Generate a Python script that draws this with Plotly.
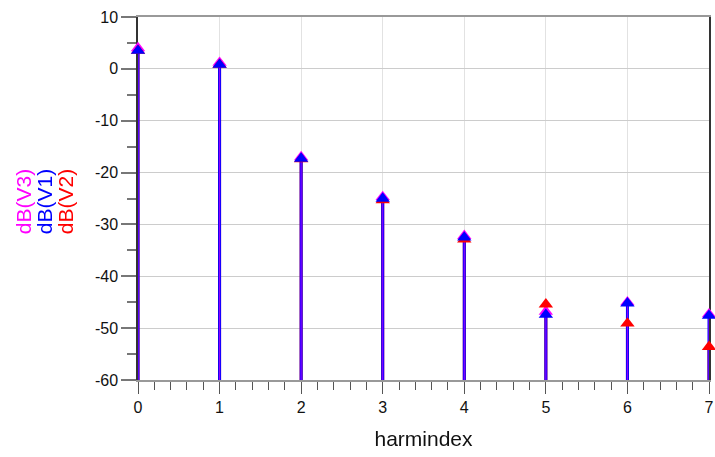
import plotly.graph_objects as go

# Harmonic spectrum (dB) of three node voltages
harmindex = [0, 1, 2, 3, 4, 5, 6, 7]
db_v1 = [3.5, 0.8, -17.3, -25.0, -32.5, -47.4, -45.2, -47.6]
db_v2 = [3.5, 0.8, -17.4, -25.3, -32.9, -45.4, -49.1, -53.6]
db_v3 = [4.0, 1.2, -17.0, -24.7, -32.2, -46.8, -45.0, -47.3]

y_ticks = [10, 0, -10, -20, -30, -40, -50, -60]
y_tick_labels = ["10", "0", "-10", "-20", "-30", "-40", "-50", "-60"]

names = ["dB(V3)", "dB(V1)", "dB(V2)"]
colors = {"dB(V1)": "#0000ff", "dB(V2)": "#ff0000", "dB(V3)": "#ff00ff"}
series = {"dB(V1)": db_v1, "dB(V2)": db_v2, "dB(V3)": db_v3}

Y_MIN, Y_MAX = -60, 10
FONT = "Liberation Sans, Arial, sans-serif"


def stem_xy(xs, ys):
    sx, sy = [], []
    for x, y in zip(xs, ys):
        sx += [x, x, None]
        sy += [Y_MIN, y, None]
    return sx, sy


fig = go.Figure()

# stems: red underneath, blue, thin magenta on top
for name, width, opac in [("dB(V2)", 3, 1.0), ("dB(V1)", 3, 1.0), ("dB(V3)", 1.2, 0.55)]:
    sx, sy = stem_xy(harmindex, series[name])
    fig.add_trace(go.Scatter(x=sx, y=sy, mode="lines", showlegend=False,
                             line=dict(color=colors[name], width=width),
                             opacity=opac, hoverinfo="skip"))

# arrow heads
for name in ["dB(V3)", "dB(V2)", "dB(V1)"]:
    fig.add_trace(go.Scatter(x=harmindex, y=series[name], mode="markers", name=name,
                             showlegend=False, cliponaxis=False,
                             marker=dict(symbol="triangle-up", size=12.5,
                                         color=colors[name], line=dict(width=0))))

fig.update_xaxes(range=[0, 7], dtick=1, tick0=0, automargin=False,
                 showline=True, linecolor="#999999", linewidth=2, mirror=True,
                 showgrid=True, gridcolor="#e2e2e2", gridwidth=1,
                 ticks="outside", ticklen=12, tickcolor="#555555", tickwidth=1,
                 minor=dict(dtick=0.2, ticks="outside", ticklen=8,
                            tickcolor="#555555", showgrid=False),
                 tickfont=dict(family=FONT, size=16, color="#111111"),
                 title=dict(text="harmindex", font=dict(family=FONT, size=21, color="#111111"),
                            standoff=16),
                 zeroline=False)

fig.update_yaxes(range=[Y_MIN, Y_MAX], tickmode="array",
                 tickvals=y_ticks, ticktext=y_tick_labels, automargin=False,
                 showline=True, linecolor="#333333", linewidth=1.5, mirror=True,
                 showgrid=True, gridcolor="#cccccc", gridwidth=1,
                 ticks="outside", ticklen=15, tickcolor="#777777", tickwidth=1.5,
                 minor=dict(dtick=5, ticks="outside", ticklen=9,
                            tickcolor="#777777", showgrid=False),
                 tickfont=dict(family=FONT, size=16, color="#111111"),
                 zeroline=False, layer="below traces")

# rotated, colour-coded axis labels
label_x = {"dB(V3)": 23, "dB(V1)": 44, "dB(V2)": 65}
left, right = 138, 709
for name in names:
    fig.add_annotation(text=name, textangle=-90, showarrow=False,
                       xref="paper", yref="paper",
                       x=(label_x[name] - left) / (right - left), y=0.49,
                       xanchor="center", yanchor="middle",
                       font=dict(family=FONT, size=21, color=colors[name]))

fig.update_layout(width=715, height=457,
                  margin=dict(l=left, r=715 - right, t=17, b=77),
                  paper_bgcolor="white", plot_bgcolor="white",
                  showlegend=False)

fig.write_html("out.html")
